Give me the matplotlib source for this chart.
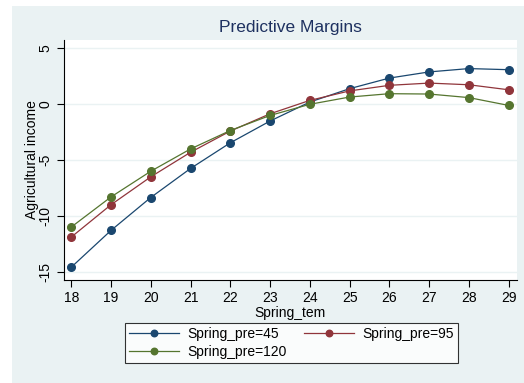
import numpy as np
import matplotlib.pyplot as plt
from matplotlib.patches import Rectangle

plt.rcParams['font.family'] = ['Liberation Sans', 'DejaVu Sans']

# spring temperature and predicted margins at three precipitation levels
spring_tem = [18, 19, 20, 21, 22, 23, 24, 25, 26, 27, 28, 29]
pre_45 = [-14.6, -11.3, -8.35, -5.75, -3.45, -1.5, 0.2, 1.4, 2.35, 2.9, 3.2, 3.1]
pre_95 = [-11.9, -9.0, -6.5, -4.3, -2.4, -0.85, 0.35, 1.2, 1.7, 1.9, 1.75, 1.3]
pre_120 = [-11.0, -8.3, -6.0, -4.0, -2.35, -1.0, 0.0, 0.65, 0.95, 0.92, 0.6, -0.1]
labels = ['Spring_pre=45', 'Spring_pre=95', 'Spring_pre=120']
colors = ['#1a476f', '#90353b', '#55752f']
bg = '#eaf2f3'

fig = plt.figure(figsize=(5.24, 3.83), dpi=100)
fig.patches.append(Rectangle((12 / 524, 0), 1, 1 - 6 / 383, transform=fig.transFigure,
                             facecolor=bg, edgecolor='none', zorder=-10))

ax = fig.add_axes([63.5 / 524, 1 - 280 / 383, (517 - 63.5) / 524, (280 - 40) / 383])
ax.set_facecolor('white')

lines = []
for ys, c, lab in zip([pre_45, pre_95, pre_120], colors, labels):
    ln, = ax.plot(spring_tem, ys, color=c, lw=0.9, marker='o', ms=5.5, label=lab)
    lines.append(ln)

ax.set_xlim(17.806, 29.21)
ax.set_ylim(-15.74, 5.76)
ax.set_xticks(spring_tem)
ax.set_yticks([5, 0, -5, -10, -15])
ax.set_yticklabels(['5', '0', '-5', '-10', '-15'], rotation=90, va='center')
ax.grid(axis='y', color=bg, lw=1.0)
ax.set_axisbelow(True)
for s in ['top', 'right']:
    ax.spines[s].set_visible(False)
for s in ['left', 'bottom']:
    ax.spines[s].set_color('black')
    ax.spines[s].set_linewidth(0.8)
ax.tick_params(labelsize=10, length=5, width=0.8, color='black', pad=3)

ax.set_title('Predictive Margins', fontsize=12.5, color='#1e3160', pad=6)
ax.set_xlabel('Spring_tem', fontsize=10, labelpad=1)
ax.set_ylabel('Agricultural income', fontsize=10)
ax.yaxis.set_label_coords(-0.053, 0.5)

# row-wise order: 45 and 95 on the first row, 120 below
order = [0, 2, 1]
leg = fig.legend([lines[i] for i in order], [labels[i] for i in order],
                 loc='upper left', bbox_to_anchor=(125 / 524, 1 - 323 / 383), ncol=2,
                 borderaxespad=0, frameon=True, fancybox=False, edgecolor='black',
                 fontsize=10, handlelength=3.6, handletextpad=0.6, columnspacing=1.2,
                 borderpad=0.3, labelspacing=0.25, markerscale=0.85)
leg.get_frame().set_linewidth(0.8)

fig.savefig('out.png', dpi=100)
